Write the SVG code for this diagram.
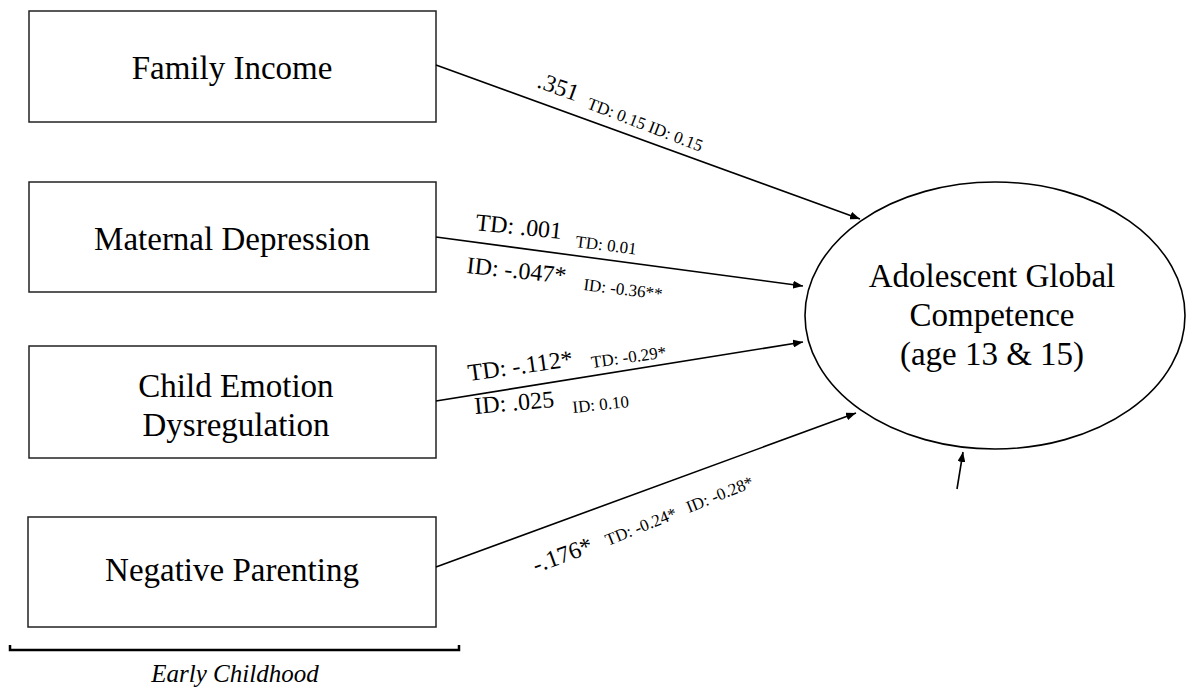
<svg xmlns="http://www.w3.org/2000/svg" width="1187" height="688" viewBox="0 0 1187 688">
<defs>
<marker id="ah" viewBox="0 0 10 8" refX="10" refY="4" markerWidth="10" markerHeight="8" markerUnits="userSpaceOnUse" orient="auto">
<path d="M0,0 L10,4 L0,8 Z" fill="#000"/>
</marker>
<style>
.box{fill:#fff;stroke:#222;stroke-width:1.5}
.node{font-family:"Liberation Serif","Times New Roman",serif;font-size:33px;fill:#000;text-anchor:middle}
.lbl{font-family:"Liberation Serif","Times New Roman",serif;font-size:24px;fill:#000}
.sm{font-family:"Liberation Serif","Times New Roman",serif;font-size:17px;fill:#000}
.edge{stroke:#000;stroke-width:1.6;fill:none;marker-end:url(#ah)}
</style>
</defs>
<rect width="1187" height="688" fill="#fff"/>
<g id="family-income">
<rect class="box" x="29" y="11" width="407" height="111"/>
<text class="node" x="232" y="79">Family Income</text>
</g>
<g id="maternal-depression">
<rect class="box" x="29" y="182" width="407" height="110"/>
<text class="node" x="232" y="250">Maternal Depression</text>
</g>
<g id="child-emotion">
<rect class="box" x="29" y="346" width="407" height="112"/>
<text class="node" x="236" y="397">Child Emotion</text>
<text class="node" x="236" y="436">Dysregulation</text>
</g>
<g id="negative-parenting">
<rect class="box" x="28" y="517" width="408" height="110"/>
<text class="node" x="232" y="581">Negative Parenting</text>
</g>
<g id="adolescent">
<ellipse cx="995" cy="315.5" rx="190" ry="133.5" fill="#fff" stroke="#000" stroke-width="1.6"/>
<text class="node" x="992" y="287">Adolescent Global</text>
<text class="node" x="992" y="326">Competence</text>
<text class="node" x="992" y="365">(age 13 &amp; 15)</text>
</g>
<g id="connectors">
<line class="edge" x1="436" y1="65" x2="860" y2="219"/>
<line class="edge" x1="436" y1="237" x2="803" y2="286"/>
<line class="edge" x1="436" y1="401" x2="803" y2="342"/>
<line class="edge" x1="436" y1="567" x2="856" y2="413"/>
<line class="edge" x1="957" y1="489" x2="963" y2="452"/>
</g>
<g id="labels">
<text class="lbl" transform="translate(536,87) rotate(20)">.351</text>
<text class="sm" transform="translate(586,108) rotate(21)">TD: 0.15  ID: 0.15</text>
<text class="lbl" transform="translate(475,230) rotate(6)">TD: .001</text>
<text class="sm" transform="translate(575,247) rotate(7)">TD: 0.01</text>
<text class="lbl" transform="translate(466,273) rotate(6)">ID: -.047*</text>
<text class="sm" transform="translate(583,290) rotate(7)">ID: -0.36**</text>
<text class="lbl" transform="translate(469,381) rotate(-8)">TD: -.112*</text>
<text class="sm" transform="translate(592,368) rotate(-8)">TD: -0.29*</text>
<text class="lbl" transform="translate(475,414) rotate(-5)">ID: .025</text>
<text class="sm" transform="translate(573,413) rotate(-6)">ID: 0.10</text>
<text class="lbl" transform="translate(536,573) rotate(-20)">-.176*</text>
<text class="sm" transform="translate(608,546) rotate(-22)">TD: -0.24*</text>
<text class="sm" transform="translate(689,513) rotate(-22)">ID: -0.28*</text>
</g>
<g id="bracket">
<path d="M10,645 L10,650 L459,650 L459,645" fill="none" stroke="#000" stroke-width="2.5"/>
<text x="235" y="682" font-family="'Liberation Serif','Times New Roman',serif" font-size="25" font-style="italic" text-anchor="middle">Early Childhood</text>
</g>
</svg>
